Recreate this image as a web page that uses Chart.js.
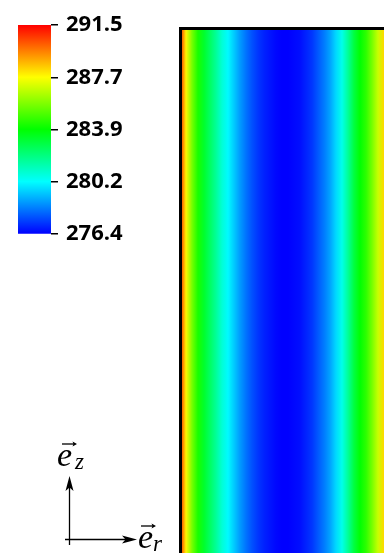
<!DOCTYPE html>
<html>
<head>
<meta charset="utf-8">
<script src="https://cdn.jsdelivr.net/npm/chart.js@4.4.0/dist/chart.umd.min.js"></script>
<style>
  html, body { margin: 0; padding: 0; background: #fff; }
  body { width: 384px; height: 553px; position: relative; overflow: hidden; }
  #field, #cbar, #axes { position: absolute; left: 0; top: 0; }
</style>
</head>
<body>
<canvas id="field" width="384" height="553"></canvas>
<canvas id="cbar" width="130" height="255"></canvas>
<svg id="axes" width="384" height="553">
  <g stroke="#000" stroke-width="1.3" fill="none">
    <line x1="69.5" y1="545" x2="69.5" y2="482"/>
    <line x1="65" y1="539.5" x2="130" y2="539.5"/>
    <line x1="62" y1="444" x2="75" y2="444"/>
    <line x1="141" y1="526" x2="154" y2="526"/>
  </g>
  <g fill="#000">
    <path d="M69.5,476 L73.5,491 L69.5,487.5 L65.5,491 Z"/>
    <path d="M137,539.5 L122,535.5 L125.5,539.5 L122,543.5 Z"/>
    <path d="M77,444 L72.5,441.5 L73.5,444 L72.5,446.5 Z"/>
    <path d="M156,526 L151.5,523.5 L152.5,526 L151.5,528.5 Z"/>
  </g>
  <g font-family="Liberation Serif" font-style="italic" fill="#000">
    <text x="57" y="466" font-size="34">e</text>
    <text x="75" y="469" font-size="23">z</text>
    <text x="138" y="548" font-size="34">e</text>
    <text x="153" y="551" font-size="23">r</text>
  </g>
</svg>
<script>
// radial sample positions across the visible part of the slab
var rPos = ['0.00', '0.03', '0.06', '0.09', '0.12', '0.15', '0.18', '0.21', '0.24', '0.27',
            '0.30', '0.33', '0.36', '0.39', '0.42', '0.45', '0.48', '0.51', '0.54', '0.57',
            '0.60', '0.63', '0.66', '0.69', '0.72', '0.75', '0.78', '0.81', '0.84', '0.87',
            '0.90', '0.93', '0.96', '0.99', '1.02'];
// temperature (K), same for every height
var temps = [291.2, 287.9, 285.7, 284.3, 283.3, 282.5, 281.7, 280.8, 280.1, 279.4,
             278.7, 278.1, 277.6, 277.2, 276.9, 276.7, 276.5, 276.4, 276.4, 276.5,
             276.6, 276.9, 277.2, 277.7, 278.2, 278.8, 279.6, 280.5, 281.7, 283.0,
             283.9, 284.6, 285.7, 286.9, 288.3];
var zTop = 1;
// colour bar range and ticks
var tMin = 276.4;
var tMax = 291.5;
var tickValues = [276.4, 280.2, 283.9, 287.7, 291.5];

// rainbow map
var cmapStops = [0, 0.25, 0.5, 0.75, 1];
var cmapColors = [[0, 0, 255], [0, 255, 255], [0, 255, 0], [255, 255, 0], [255, 0, 0]];

function tempColor(T) {
  var t = (T - tMin) / (tMax - tMin);
  t = Math.min(Math.max(t, 0), 1);
  for (var i = 1; i < cmapStops.length; i++) {
    if (t <= cmapStops[i]) {
      var f = (t - cmapStops[i - 1]) / (cmapStops[i] - cmapStops[i - 1]);
      var a = cmapColors[i - 1], b = cmapColors[i];
      return 'rgb(' + Math.round(a[0] + (b[0] - a[0]) * f) + ',' +
        Math.round(a[1] + (b[1] - a[1]) * f) + ',' +
        Math.round(a[2] + (b[2] - a[2]) * f) + ')';
    }
  }
  return 'rgb(255,0,0)';
}

// horizontal gradient through every sample, placed by the x scale
function fieldGradient(context) {
  var chart = context.chart;
  var area = chart.chartArea;
  if (!area) return null;
  var x = chart.scales.x;
  var g = chart.ctx.createLinearGradient(area.left, 0, area.right, 0);
  temps.forEach(function (T, i) {
    var s = (x.getPixelForValue(i) - area.left) / (area.right - area.left);
    g.addColorStop(Math.min(Math.max(s, 0), 1), tempColor(T));
  });
  return g;
}

function barGradient(context) {
  var chart = context.chart;
  if (!chart.chartArea) return null;
  var y = chart.scales.y;
  var g = chart.ctx.createLinearGradient(0, y.getPixelForValue(tMin), 0, y.getPixelForValue(tMax));
  cmapStops.forEach(function (s, i) {
    g.addColorStop(s, 'rgb(' + cmapColors[i].join(',') + ')');
  });
  return g;
}

new Chart(document.getElementById('field'), {
  type: 'bar',
  data: {
    labels: rPos,
    datasets: [{
      data: rPos.map(function () { return zTop; }),
      backgroundColor: fieldGradient,
      borderWidth: 0,
      barPercentage: 1,
      categoryPercentage: 1
    }]
  },
  options: {
    responsive: false,
    animation: false,
    layout: { padding: { left: 180, top: 28, right: 0, bottom: 0 } },
    plugins: { legend: { display: false }, tooltip: { enabled: false } },
    scales: {
      x: {
        position: 'top',
        offset: false,
        ticks: { display: false },
        grid: { display: false, drawTicks: false },
        border: { display: true, color: '#000', width: 3, z: 1 }
      },
      y: {
        min: 0,
        max: zTop,
        ticks: { display: false },
        grid: { display: false, drawTicks: false },
        border: { display: true, color: '#000', width: 3, z: 1 }
      }
    }
  }
});

new Chart(document.getElementById('cbar'), {
  type: 'bar',
  data: {
    labels: ['T'],
    datasets: [{
      data: [[tMin, tMax]],
      backgroundColor: barGradient,
      borderWidth: 0,
      barPercentage: 1,
      categoryPercentage: 1
    }]
  },
  options: {
    responsive: false,
    animation: false,
    layout: { padding: { left: 18, top: 25, right: 0, bottom: 15 } },
    plugins: { legend: { display: false }, tooltip: { enabled: false } },
    scales: {
      x: { display: false },
      y: {
        position: 'right',
        min: tMin,
        max: tMax,
        afterBuildTicks: function (scale) {
          scale.ticks = tickValues.map(function (v) { return { value: v }; });
        },
        afterFit: function (scale) { scale.width = 79; },
        ticks: {
          color: '#000',
          padding: 8,
          font: { family: 'Open Sans', size: 22, weight: '700' },
          callback: function (v) { return Number(v).toFixed(1); }
        },
        grid: { drawOnChartArea: false, drawTicks: true, tickLength: 7, color: '#000', lineWidth: 1.5 },
        border: { display: false }
      }
    }
  }
});
</script>
</body>
</html>
